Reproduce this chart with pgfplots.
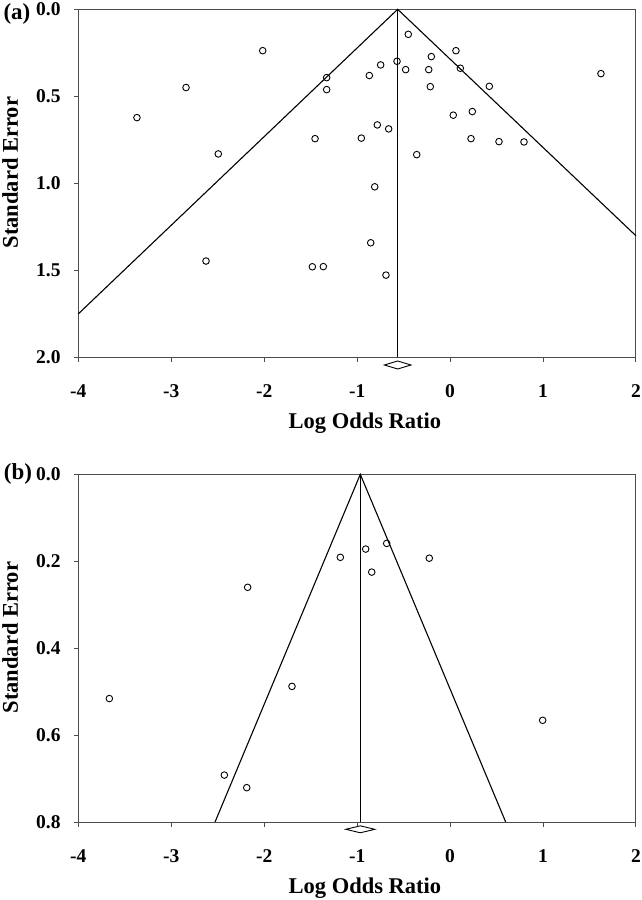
\documentclass[border=0pt]{standalone}
\usepackage{fontspec}
\setmainfont{Liberation Serif}
\usepackage{pgfplots}
\pgfplotsset{compat=1.18}
\begin{document}
\begin{tikzpicture}
\path[use as bounding box] (0,0) rectangle (642pt,900pt);
\pgfplotsset{
  funnel/.style={
    scale only axis, width=557.7pt, height=347.7pt,
    anchor=south west,
    y dir=reverse,
    xmin=-4, xmax=2,
    xtick={-4,-3,-2,-1,0,1,2}, xticklabels={-4,-3,-2,-1,0,1,2},
    tick align=outside, major tick length=4.5pt,
    xtick pos=bottom, ytick pos=left,
    axis line style={line width=1pt, draw=black!70},
    every tick/.style={line width=1pt, draw=black!70},
    ticklabel style={font=\fontsize{19.5}{20}\selectfont\bfseries, inner sep=0pt},
    xticklabel style={anchor=base, yshift=-36pt},
    yticklabel style={anchor=east, xshift=-13pt},
    clip=false,
    xlabel={Log Odds Ratio}, ylabel={Standard Error},
    label style={font=\fontsize{22.5}{24}\selectfont\bfseries},
    xlabel style={at={(axis description cs:0.514,-0.207)}, anchor=base},
    ylabel style={at={(axis description cs:-0.122,0.53)}, anchor=center},
    pts/.style={only marks, mark=o, mark size=3.3pt, mark options={line width=0.9pt, draw=black}},
    fl/.style={black, line width=1.1pt, no marks},
  }
}
% ---------- panel (a)
\begin{axis}[funnel, at={(78.3pt,543pt)},
  ymin=0, ymax=2, ytick={0,0.5,1,1.5,2}, yticklabels={0.0,0.5,1.0,1.5,2.0}]
\addplot[fl] coordinates {(-4,1.752) (-0.564,0) (2,1.303)};
\addplot[fl] coordinates {(-0.564,0) (-0.564,2)};
\addplot[black, line width=0.9pt, fill=white] coordinates {(-0.707,2.046) (-0.564,2.023) (-0.421,2.046) (-0.564,2.069)} -- cycle;
\addplot[pts] coordinates {
(-2.016,0.238) (-2.841,0.450) (-3.369,0.623) (-2.494,0.832) (-1.453,0.744)
(-1.328,0.393) (-1.328,0.462) (-0.450,0.144) (0.063,0.238) (-0.202,0.272)
(-0.747,0.320) (-0.571,0.299) (-0.869,0.381) (-0.478,0.347) (-0.230,0.347)
(0.110,0.339) (-0.213,0.445) (0.422,0.443) (1.623,0.370) (0.239,0.588)
(0.034,0.609) (-0.783,0.665) (-0.661,0.688) (-0.955,0.741) (0.225,0.744)
(0.526,0.761) (0.795,0.763) (-0.359,0.836) (-0.811,1.021) (-0.854,1.343)
(-1.364,1.480) (-0.690,1.529) (-2.626,1.448) (-1.482,1.481)
};
\end{axis}
% ---------- panel (b)
\begin{axis}[funnel, at={(78.3pt,78pt)},
  ymin=0, ymax=0.8, ytick={0,0.2,0.4,0.6,0.8}, yticklabels={0.0,0.2,0.4,0.6,0.8}]
\addplot[fl] coordinates {(-2.529,0.8) (-0.966,0) (0.598,0.8)};
\addplot[fl] coordinates {(-0.966,0) (-0.966,0.8)};
\addplot[black, line width=0.9pt, fill=white] coordinates {(-1.122,0.8168) (-0.966,0.8088) (-0.810,0.8168) (-0.966,0.8248)} -- cycle;
\addplot[pts] coordinates {
(-2.178,0.260) (-3.666,0.516) (-1.701,0.488) (-2.429,0.692) (-2.188,0.721)
(-1.181,0.191) (-0.908,0.172) (-0.682,0.159) (-0.843,0.225) (-0.224,0.193)
(0.996,0.566)
};
\end{axis}
\node[font=\fontsize{23}{25}\selectfont\bfseries, anchor=base] at (17pt,880.5pt) {(a)};
\node[font=\fontsize{23}{25}\selectfont\bfseries, anchor=base] at (18pt,420.5pt) {(b)};
\end{tikzpicture}
\end{document}
